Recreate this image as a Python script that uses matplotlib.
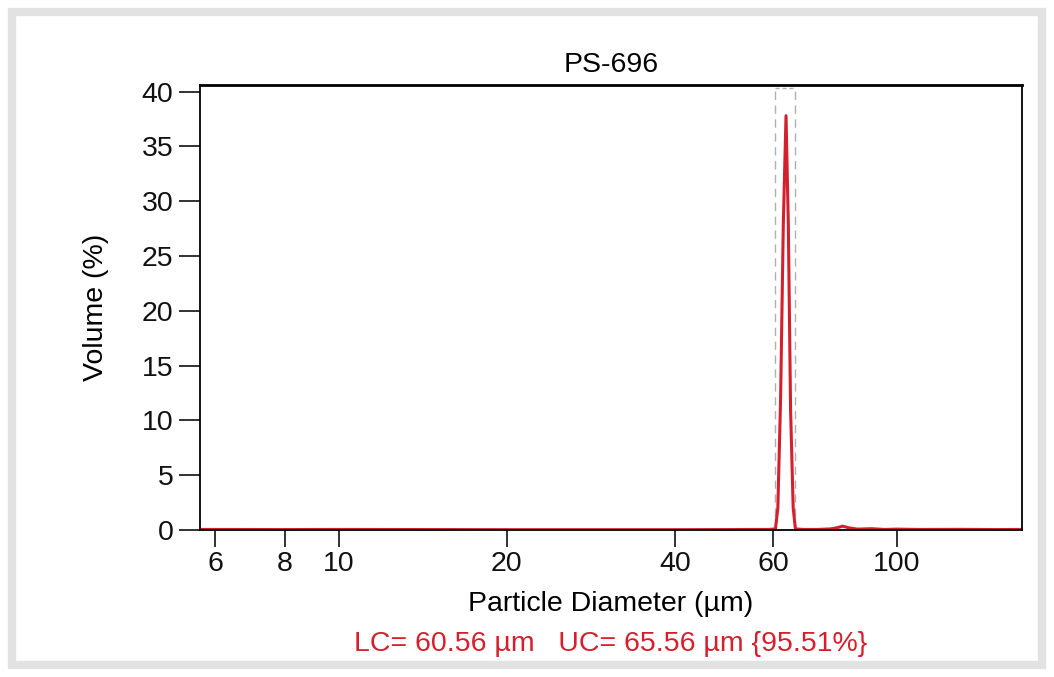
import matplotlib
matplotlib.use("Agg")
import matplotlib.pyplot as plt
from matplotlib.patches import Rectangle

plt.rcParams.update({
    "font.size": 20.5,
    "font.family": ["Liberation Sans", "DejaVu Sans"],
})

# particle size distribution
diameter = [5.7, 8, 10, 15, 20, 30, 40, 50, 56, 59, 60.6, 61.2, 61.9, 62.6,
            63.3, 63.9, 64.5, 65.2, 65.8, 68, 72, 76, 78, 80, 82, 85, 90,
            95, 100, 110, 130, 150, 168]
volume = [0.05, 0.04, 0.05, 0.04, 0.03, 0.03, 0.03, 0.04, 0.05, 0.05, 0.1,
          2.0, 12.0, 28.0, 37.8, 28.0, 11.0, 2.0, 0.1, 0.05, 0.05, 0.1, 0.2,
          0.35, 0.2, 0.08, 0.12, 0.05, 0.08, 0.05, 0.06, 0.04, 0.05]

lc = 60.56
uc = 65.56
pct = 95.51
x_ticks = [6, 8, 10, 20, 40, 60, 100]
y_ticks = [0, 5, 10, 15, 20, 25, 30, 35, 40]

fig = plt.figure(figsize=(10.54, 6.77), dpi=100)
ax = fig.add_axes([200 / 1054, 1 - 530 / 677, 822 / 1054, 445 / 677])

# confidence window
ax.plot([lc, lc], [0, 40.3], color="#b0b0b0", lw=1.0, ls=(0, (6, 4)))
ax.plot([uc, uc], [0, 40.3], color="#b0b0b0", lw=1.0, ls=(0, (6, 4)))
ax.plot([lc, uc], [40.3, 40.3], color="#b0b0b0", lw=1.0, ls=(0, (3, 2)))

ax.plot(diameter, volume, color="#d41f2c", lw=2.2)

ax.set_xscale("log")
ax.set_xlim(5.64, 167.6)
ax.set_ylim(0, 40.6)
ax.set_xticks(x_ticks)
ax.set_xticklabels([str(t) for t in x_ticks])
ax.xaxis.set_minor_locator(plt.NullLocator())
ax.set_yticks(y_ticks)
ax.tick_params(axis="both", direction="out", width=1.3, colors="#222222",
               labelcolor="#111111")
ax.tick_params(axis="y", length=15, pad=4)
ax.tick_params(axis="x", length=12, pad=3)
for side in ax.spines:
    ax.spines[side].set_linewidth(1.3)
ax.spines["top"].set_linewidth(2.0)

ax.set_title("PS-696", fontsize=20.5, pad=9)
ax.set_xlabel("Particle Diameter (µm)", fontsize=20.5, labelpad=10)
ax.set_ylabel("Volume (%)", fontsize=20.5, labelpad=24)

fig.text(611 / 1054, 1 - 644 / 677,
         f"LC= {lc} µm   UC= {uc} µm {{{pct}%}}",
         color="#d41f2c", fontsize=20.5, ha="center", va="center")

# scanned page border
fig.patches.append(Rectangle((12 / 1054, 12 / 677), 1030 / 1054, 653 / 677,
                             transform=fig.transFigure, fill=False,
                             edgecolor="#e2e2e2", lw=6))

fig.savefig("out.png", dpi=100)
